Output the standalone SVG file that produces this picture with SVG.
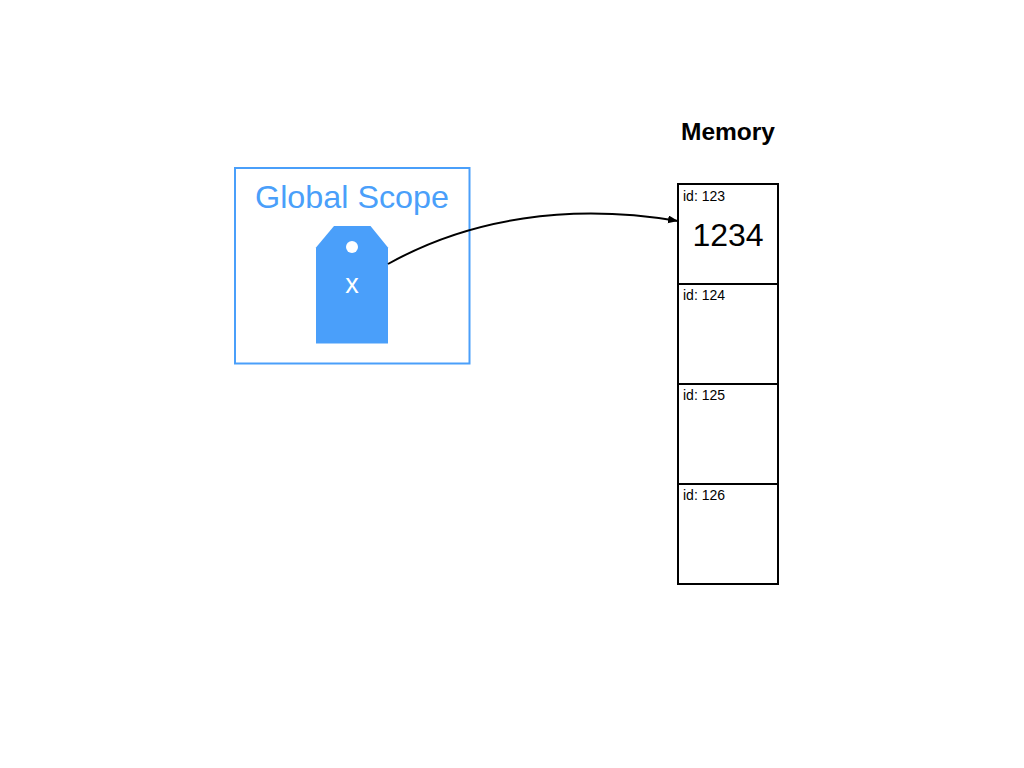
<svg xmlns="http://www.w3.org/2000/svg" width="1024" height="768" viewBox="0 0 1024 768">
<style>
text{font-family:"Liberation Sans",Arial,sans-serif}
.cell{fill:#fff;stroke:#000;stroke-width:2}
.id{font-size:14px;fill:#000}
</style>
<defs>
<marker id="arrow" markerUnits="userSpaceOnUse" markerWidth="12" markerHeight="10" refX="10" refY="4" orient="auto"><path d="M0 0L10 4L0 8Z" fill="#000"/></marker>
</defs>
<rect width="1024" height="768" fill="#fff"/>
<g id="scope">
<rect x="235" y="168" width="234.500" height="195.500" fill="#fff" stroke="#4a9ffa" stroke-width="2"/>
<text x="352" y="208" font-size="32" fill="#4a9ffa" text-anchor="middle" textLength="194" lengthAdjust="spacingAndGlyphs">Global Scope</text>
</g>
<g id="tag-x">
<path d="M316 247.500L334 226H370.500L388 247.500V343.500H316Z" fill="#4a9ffa"/>
<circle cx="352" cy="247" r="6" fill="#fff"/>
<text x="352" y="293" font-size="27" fill="#fff" text-anchor="middle">x</text>
</g>
<g id="memory-title"><text x="728" y="140" font-size="24" font-weight="700" fill="#000" text-anchor="middle" textLength="94" lengthAdjust="spacingAndGlyphs">Memory</text></g>
<g id="cell-123"><rect class="cell" x="678" y="184" width="100" height="100"/><text class="id" x="683" y="201">id: 123</text><text x="728" y="246" font-size="32" fill="#000" text-anchor="middle">1234</text></g>
<g id="cell-124"><rect class="cell" x="678" y="284" width="100" height="100"/><text class="id" x="683" y="300">id: 124</text></g>
<g id="cell-125"><rect class="cell" x="678" y="384" width="100" height="100"/><text class="id" x="683" y="400">id: 125</text></g>
<g id="cell-126"><rect class="cell" x="678" y="484" width="100" height="100"/><text class="id" x="683" y="500">id: 126</text></g>
<g id="connectors">
<path d="M388 264C470 218 570 203 678 221" fill="none" stroke="#000" stroke-width="2" marker-end="url(#arrow)"/>
</g>
</svg>
